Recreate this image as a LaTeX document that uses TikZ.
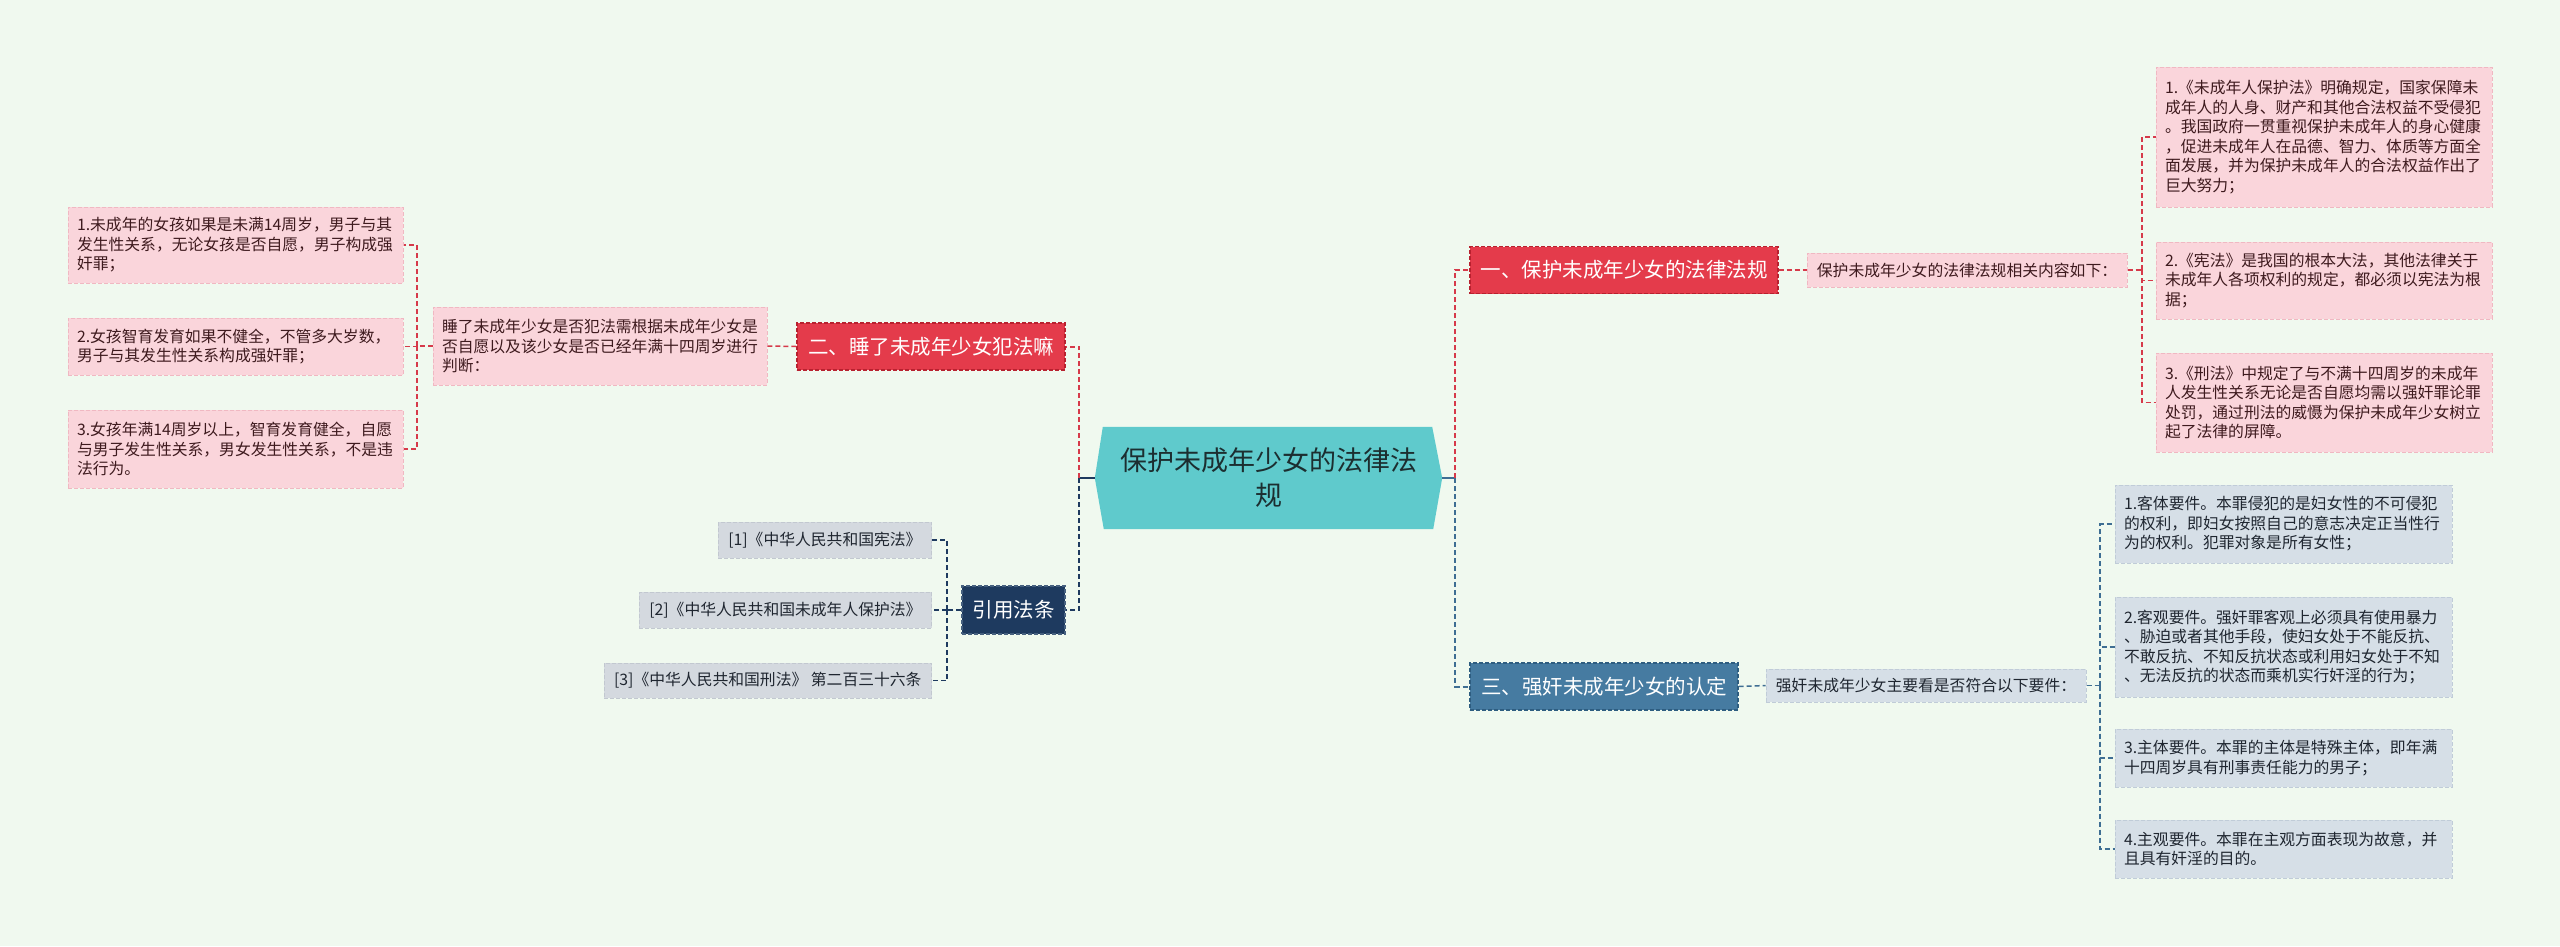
\documentclass[tikz,border=0pt]{standalone}
\usepackage{fontspec}
\setmainfont{Noto Sans CJK SC}
\usetikzlibrary{calc,backgrounds}

\definecolor{bgmint}{HTML}{F0F9EF}
\definecolor{rootteal}{HTML}{5FCACC}
\definecolor{roottext}{HTML}{1C2E30}
\definecolor{topicred}{HTML}{E43B4B}
\definecolor{topicredline}{HTML}{B8212F}
\definecolor{linkred}{HTML}{D63A4A}
\definecolor{leafpink}{HTML}{FAD5DB}
\definecolor{leafpinkline}{HTML}{F0B8C2}
\definecolor{pinktext}{HTML}{3E1A1E}
\definecolor{topicsteel}{HTML}{467BA1}
\definecolor{topicsteelline}{HTML}{2E5D80}
\definecolor{linksteel}{HTML}{3E6E93}
\definecolor{leafsteel}{HTML}{D6DFE7}
\definecolor{leafsteelline}{HTML}{C0CCD8}
\definecolor{topicnavy}{HTML}{1E3A5F}
\definecolor{topicnavyline}{HTML}{46607F}
\definecolor{leafgrey}{HTML}{D4D9DF}
\definecolor{leafgreyline}{HTML}{C2C8D0}
\definecolor{darktext}{HTML}{1F2630}

\newcommand{\leaffont}{\fontsize{15.8pt}{19.5pt}\selectfont}
\newcommand{\topicfont}{\fontsize{20.5pt}{24pt}\selectfont}
\newcommand{\rootfont}{\fontsize{27pt}{35pt}\selectfont}

\begin{document}
\begin{tikzpicture}[x=1pt, y=-1pt,
	topic/.style={inner sep=0pt, line width=1.2pt, dash pattern=on 4pt off 2pt, text=white, font=\topicfont},
	redtopic/.style={topic, fill=topicred, draw=topicredline},
	steeltopic/.style={topic, fill=topicsteel, draw=topicsteelline},
	navytopic/.style={topic, fill=topicnavy, draw=topicnavyline},
	leaf/.style={inner xsep=9pt, inner ysep=0pt, align=left, font=\leaffont, line width=1pt, dash pattern=on 4pt off 2pt},
	pinkleaf/.style={leaf, fill=leafpink, draw=leafpinkline, text=pinktext},
	steelleaf/.style={leaf, fill=leafsteel, draw=leafsteelline, text=darktext},
	greyleaf/.style={leaf, inner xsep=10pt, fill=leafgrey, draw=leafgreyline, text=darktext},
	link/.style={line width=2pt, dash pattern=on 5pt off 3pt},
	twig/.style={line width=1.5pt, dash pattern=on 5pt off 3pt}]

	\useasboundingbox (0, 0) rectangle (2560, 946);

	% centre
	\node[font=\rootfont, text=roottext, align=center, minimum width=347pt, minimum height=102pt, inner sep=0pt] (root) at (1268.5, 478) {保护未成年少女的法律法\\规};
	\begin{scope}[on background layer]
		\fill[bgmint] (0, 0) rectangle (2560, 946);
		\fill[rootteal] (root.west) -- ($(root.north west)+(8, 0)$) -- ($(root.north east)+(-10, 0)$) -- (root.east) -- ($(root.south east)+(-9, 0)$) -- ($(root.south west)+(9, 0)$) -- cycle;
	\end{scope}
	\coordinate (lj) at (1079, 478);
	\coordinate (rj) at (1455, 478);

	% branch one
	\node[redtopic, minimum width=308pt, minimum height=47pt] (b1) at (1624, 270) {一、保护未成年少女的法律法规};
	\node[pinkleaf, minimum width=320pt, minimum height=34pt, align=center] (s1) at (1967, 270) {保护未成年少女的法律法规相关内容如下：};
	\coordinate (s1j) at (2142, 270);
	\node[pinkleaf, text width=318pt, minimum height=140pt] (r1) at (2324, 137) {1.《未成年人保护法》明确规定，国家保障未\\成年人的人身、财产和其他合法权益不受侵犯\\。我国政府一贯重视保护未成年人的身心健康\\，促进未成年人在品德、智力、体质等方面全\\面发展，并为保护未成年人的合法权益作出了\\巨大努力；};
	\node[pinkleaf, text width=318pt, minimum height=77pt] (r2) at (2324, 280.5) {2.《宪法》是我国的根本大法，其他法律关于\\未成年人各项权利的规定，都必须以宪法为根\\据；};
	\node[pinkleaf, text width=318pt, minimum height=99pt] (r3) at (2324, 402.5) {3.《刑法》中规定了与不满十四周岁的未成年\\人发生性关系无论是否自愿均需以强奸罪论罪\\处罚，通过刑法的威慑为保护未成年少女树立\\起了法律的屏障。};

	% branch two
	\node[redtopic, minimum width=268pt, minimum height=47pt] (b2) at (931, 346.5) {二、睡了未成年少女犯法嘛};
	\node[pinkleaf, text width=316pt, minimum height=78pt] (s2) at (600, 346) {睡了未成年少女是否犯法需根据未成年少女是\\否自愿以及该少女是否已经年满十四周岁进行\\判断：};
	\coordinate (s2j) at (417, 346);
	\node[pinkleaf, text width=317pt, minimum height=76pt] (l1) at (235.5, 245) {1.未成年的女孩如果是未满14周岁，男子与其\\发生性关系，无论女孩是否自愿，男子构成强\\奸罪；};
	\node[pinkleaf, text width=317pt, minimum height=57pt] (l2) at (235.5, 346.5) {2.女孩智育发育如果不健全，不管多大岁数，\\男子与其发生性关系构成强奸罪；};
	\node[pinkleaf, text width=317pt, minimum height=78pt] (l3) at (235.5, 449) {3.女孩年满14周岁以上，智育发育健全，自愿\\与男子发生性关系，男女发生性关系，不是违\\法行为。};

	% cited laws
	\node[navytopic, minimum width=103pt, minimum height=48pt] (refs) at (1013.5, 610) {引用法条};
	\coordinate (refj) at (947, 610);
	\node[greyleaf, anchor=east, minimum height=36pt] (c1) at (932, 540) {[1]《中华人民共和国宪法》};
	\node[greyleaf, anchor=east, minimum height=36pt] (c2) at (932, 610) {[2]《中华人民共和国未成年人保护法》};
	\node[greyleaf, anchor=east, minimum height=35pt] (c3) at (932, 680.5) {[3]《中华人民共和国刑法》 第二百三十六条};

	% branch three
	\node[steeltopic, minimum width=268pt, minimum height=47pt] (b4) at (1604, 686.5) {三、强奸未成年少女的认定};
	\node[steelleaf, minimum width=320pt, minimum height=33pt, align=center] (s4) at (1926, 685.5) {强奸未成年少女主要看是否符合以下要件：};
	\coordinate (s4j) at (2100, 685.5);
	\node[steelleaf, text width=319pt, minimum height=78pt] (t1) at (2283.5, 524) {1.客体要件。本罪侵犯的是妇女性的不可侵犯\\的权利，即妇女按照自己的意志决定正当性行\\为的权利。犯罪对象是所有女性；};
	\node[steelleaf, text width=319pt, minimum height=100pt] (t2) at (2283.5, 647) {2.客观要件。强奸罪客观上必须具有使用暴力\\、胁迫或者其他手段，使妇女处于不能反抗、\\不敢反抗、不知反抗状态或利用妇女处于不知\\、无法反抗的状态而乘机实行奸淫的行为；};
	\node[steelleaf, text width=319pt, minimum height=58pt] (t3) at (2283.5, 758) {3.主体要件。本罪的主体是特殊主体，即年满\\十四周岁具有刑事责任能力的男子；};
	\node[steelleaf, text width=319pt, minimum height=58pt] (t4) at (2283.5, 849) {4.主观要件。本罪在主观方面表现为故意，并\\且具有奸淫的目的。};

	% connectors
	\draw[line width=2pt, topicnavy] (root.west) -- (lj);
	\draw[line width=2pt, linksteel] (root.east) -- (rj);
	\draw[link, linkred] (lj) |- (b2.east);
	\draw[link, topicnavy] (lj) |- (refs.east);
	\draw[link, linkred] (rj) |- (b1.west);
	\draw[link, linksteel] (rj) |- (b4.west);

	\draw[twig, linkred] (b1.east) -- (s1.west);
	\draw[twig, linkred] (s1.east) -- (s1j);
	\foreach \leafname in {r1, r2, r3}
		\draw[twig, linkred] (s1j) |- (\leafname.west);

	\draw[twig, linkred] (b2.west) -- (s2.east);
	\draw[twig, linkred] (s2.west) -- (s2j);
	\foreach \leafname in {l1, l2, l3}
		\draw[twig, linkred] (s2j) |- (\leafname.east);

	\draw[twig, topicnavy] (refs.west) -- (refj);
	\foreach \leafname in {c1, c2, c3}
		\draw[twig, topicnavy] (refj) |- (\leafname.east);

	\draw[twig, linksteel] (b4.east) -- (s4.west);
	\draw[twig, linksteel] (s4.east) -- (s4j);
	\foreach \leafname in {t1, t2, t3, t4}
		\draw[twig, linksteel] (s4j) |- (\leafname.west);
\end{tikzpicture}
\end{document}
